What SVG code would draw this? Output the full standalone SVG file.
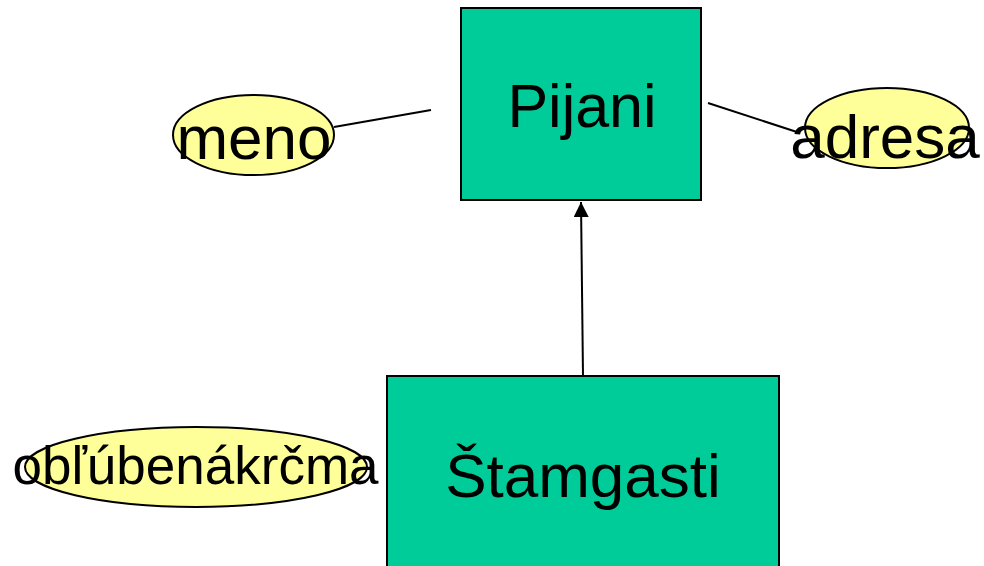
<svg xmlns="http://www.w3.org/2000/svg" width="984" height="566" viewBox="0 0 984 566">
<defs>
<style>
.entity{fill:#00CC99;stroke:#000;stroke-width:2}
.attr{fill:#FFFF99;stroke:#000;stroke-width:2}
.lbl{font-family:"Liberation Sans",Arial,sans-serif;fill:#000;text-anchor:middle}
.conn{stroke:#000;stroke-width:2;fill:none}
</style>
<marker id="arrow" markerWidth="16" markerHeight="15" refX="15" refY="7.5" orient="auto" markerUnits="userSpaceOnUse">
<path d="M0,0 L15,7.5 L0,15 Z" fill="#000"/>
</marker>
</defs>
<rect width="984" height="566" fill="#fff"/>
<g id="connectors">
<line class="conn" x1="334" y1="127" x2="431" y2="110"/>
<line class="conn" x1="708" y1="103" x2="800" y2="133"/>
<line class="conn" x1="583" y1="376" x2="581" y2="202" marker-end="url(#arrow)"/>
</g>
<g id="pijani">
<rect class="entity" x="461" y="8" width="240" height="192"/>
<text class="lbl" x="582" y="127" font-size="61">Pijani</text>
</g>
<g id="stamgasti">
<rect class="entity" x="387" y="376" width="392" height="200"/>
<text class="lbl" x="583" y="497" font-size="62">Štamgasti</text>
</g>
<g id="meno">
<ellipse class="attr" cx="253.5" cy="135" rx="80.5" ry="40"/>
<text class="lbl" x="254" y="159" font-size="62">meno</text>
</g>
<g id="adresa">
<ellipse class="attr" cx="887" cy="128" rx="82" ry="40"/>
<text class="lbl" x="885" y="158" font-size="62">adresa</text>
</g>
<g id="oblubenakrcma">
<ellipse class="attr" cx="196" cy="467" rx="171" ry="40"/>
<text class="lbl" x="195.5" y="484" font-size="53">obľúbenákrčma</text>
</g>
</svg>
